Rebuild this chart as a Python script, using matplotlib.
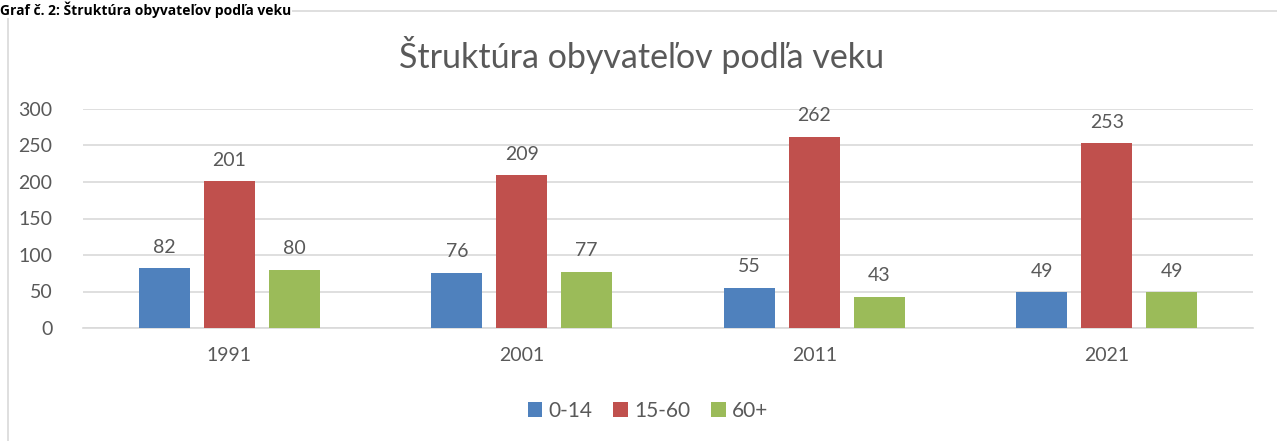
import matplotlib
matplotlib.use("Agg")
import matplotlib.pyplot as plt
from matplotlib.patches import Rectangle
import numpy as np

years = ["1991", "2001", "2011", "2021"]
series = ["0-14", "15-60", "60+"]
v_0_14 = [82, 76, 55, 49]
v_15_60 = [201, 209, 262, 253]
v_60 = [80, 77, 43, 49]
colors = ["#4f81bd", "#c0504d", "#9bbb59"]
yticks = [0, 50, 100, 150, 200, 250, 300]

plt.rcParams['font.family'] = ['Lato', 'DejaVu Sans']
txt = "#595959"

W, H = 1277, 441
fig = plt.figure(figsize=(W/100, H/100), dpi=100)
fig.patch.set_facecolor("white")

# outer chart frame
fig.patches.append(Rectangle((8/W, -0.1), (W-8)/W + 0.1, (H-11)/H + 0.1, transform=fig.transFigure,
                             fill=False, edgecolor="#d9d9d9", linewidth=1.2))
# caption above the chart frame
fig.text(0.0, 1 - 1/H, "Graf č. 2: Štruktúra obyvateľov podľa veku", fontsize=10, fontweight="bold",
         color="black", ha="left", va="top", family=['Open Sans', 'DejaVu Sans'],
         bbox=dict(facecolor="white", edgecolor="none", pad=0.5))

ax = fig.add_axes([83/W, 1 - 328/H, (1253-83)/W, (328-109)/H])
x = np.arange(len(years))
off = 0.222
wd = 0.174
data = [v_0_14, v_15_60, v_60]
for k, (vals, c, name) in enumerate(zip(data, colors, series)):
    bars = ax.bar(x + (k-1)*off, vals, wd, color=c, label=name, zorder=3)
    for b, v in zip(bars, vals):
        ax.annotate(str(v), (b.get_x() + b.get_width()/2, v), xytext=(0, 9),
                    textcoords="offset points", ha="center", va="bottom", fontsize=14, color=txt)

ax.set_xlim(-0.5, 3.5)
ax.set_ylim(0, 300)
ax.set_yticks(yticks)
ax.set_xticks(x)
ax.set_xticklabels(years)
ax.grid(axis="y", color="#d9d9d9", linewidth=1.2, zorder=0)
for s in ["top", "right", "left"]:
    ax.spines[s].set_visible(False)
ax.spines["bottom"].set_color("#d9d9d9")
ax.spines["bottom"].set_linewidth(1.2)
ax.tick_params(axis="both", length=0, labelsize=14, labelcolor=txt)
ax.tick_params(axis="y", pad=22)
ax.tick_params(axis="x", pad=14)

fig.text(642/W, 1 - 55/H, "Štruktúra obyvateľov podľa veku", fontsize=24.5, color=txt,
         ha="center", va="center")

leg = fig.legend(loc="center", bbox_to_anchor=(648/W, 1 - 411/H), ncol=3, frameon=False,
                 fontsize=15, handlelength=0.7, handleheight=0.7, handletextpad=0.3,
                 columnspacing=1.0, labelcolor=txt)

fig.savefig("out.png", dpi=100)
